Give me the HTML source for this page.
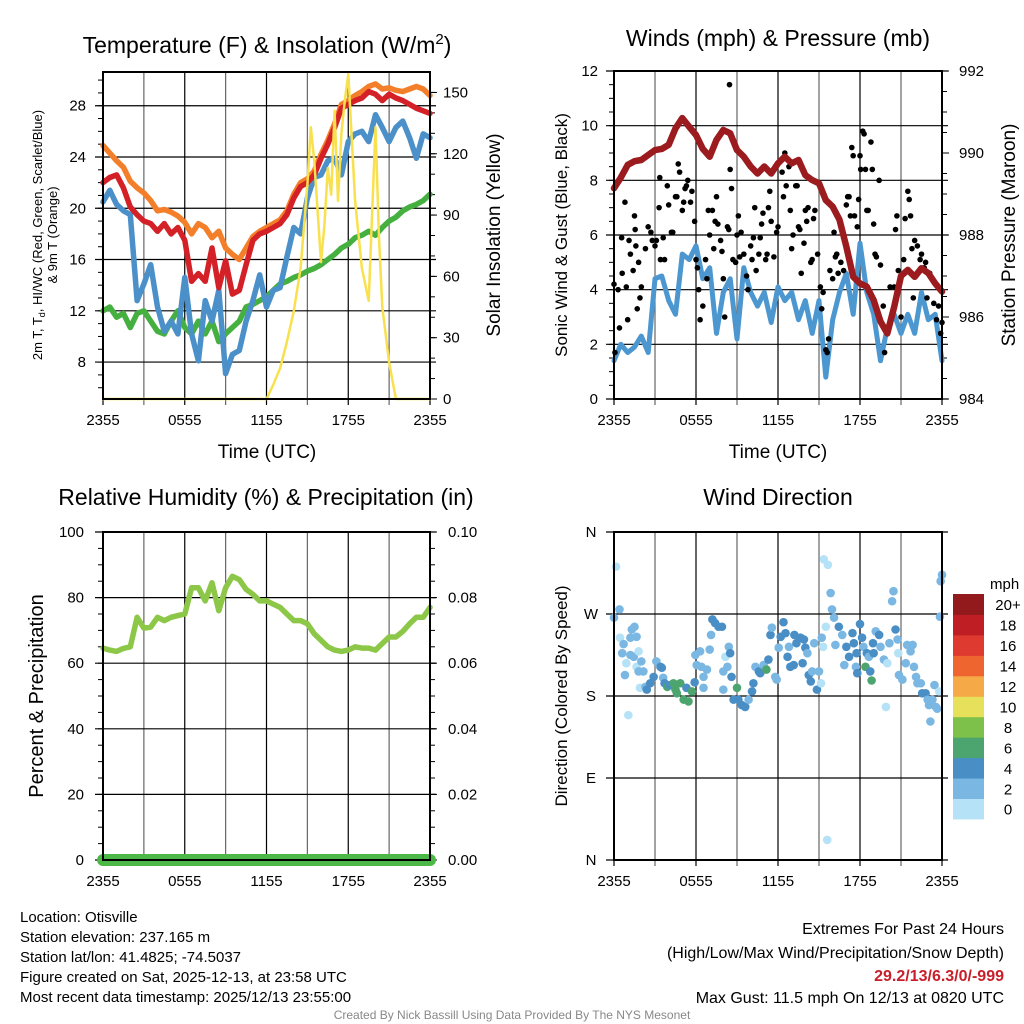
<!DOCTYPE html>
<html><head><meta charset="utf-8"><style>
html,body{margin:0;padding:0;background:#fff;}
svg{display:block;font-family:"Liberation Sans",Arial,sans-serif;}
</style></head><body>
<svg id="fig" width="1024" height="1024" viewBox="0 0 1024 1024">
<g id="texts">
<text x="267" y="53" font-size="23" text-anchor="middle">Temperature (F) &amp; Insolation (W/m<tspan font-size="15" dy="-9">2</tspan><tspan dy="9">)</tspan></text>
<text x="778" y="46" font-size="23" text-anchor="middle">Winds (mph) &amp; Pressure (mb)</text>
<text x="266" y="505" font-size="23" text-anchor="middle">Relative Humidity (%) &amp; Precipitation (in)</text>
<text x="778" y="505" font-size="23" text-anchor="middle">Wind Direction</text>
<text transform="translate(42,235) rotate(-90)" font-size="13" text-anchor="middle">2m T, T<tspan font-size="9" dy="3">d</tspan><tspan dy="-3">, HI/WC (Red, Green, Scarlet/Blue)</tspan></text>
<text transform="translate(57,235) rotate(-90)" font-size="13" text-anchor="middle">&amp; 9m T (Orange)</text>
<text transform="translate(500,235) rotate(-90)" font-size="19" text-anchor="middle">Solar Insolation (Yellow)</text>
<text transform="translate(567,235) rotate(-90)" font-size="17" text-anchor="middle">Sonic Wind &amp; Gust (Blue, Black)</text>
<text transform="translate(1015,235) rotate(-90)" font-size="19" text-anchor="middle">Station Pressure (Maroon)</text>
<text transform="translate(43,696) rotate(-90)" font-size="20" text-anchor="middle">Percent &amp; Precipitation</text>
<text transform="translate(567,696) rotate(-90)" font-size="17" text-anchor="middle">Direction (Colored By Speed)</text>
<text x="267" y="458" font-size="19" text-anchor="middle">Time (UTC)</text>
<text x="778" y="458" font-size="19" text-anchor="middle">Time (UTC)</text>
<g font-size="15">
<text x="20" y="922">Location: Otisville</text>
<text x="20" y="942">Station elevation: 237.165 m</text>
<text x="20" y="962">Station lat/lon: 41.4825; -74.5037</text>
<text x="20" y="982">Figure created on Sat, 2025-12-13, at 23:58 UTC</text>
<text x="20" y="1002">Most recent data timestamp: 2025/12/13 23:55:00</text>
</g>
<g font-size="16" text-anchor="end">
<text x="1004" y="934">Extremes For Past 24 Hours</text>
<text x="1004" y="958">(High/Low/Max Wind/Precipitation/Snow Depth)</text>
<text x="1004" y="981" fill="#c8202a" font-weight="bold">29.2/13/6.3/0/-999</text>
<text x="1004" y="1003">Max Gust: 11.5 mph On 12/13 at 0820 UTC</text>
</g>
<text x="512" y="1019" font-size="12" fill="#888" text-anchor="middle">Created By Nick Bassill Using Data Provided By The NYS Mesonet</text>
</g>
</svg>
<script>
// ---- Temperature panel data (hours since 2355 UTC, 0.5h steps) ----
const tHalf = [0,0.5,1,1.5,2,2.5,3,3.5,4,4.5,5,5.5,6,6.5,7,7.5,8,8.5,9,9.5,10,10.5,11,11.5,12,12.5,13,13.5,14,14.5,15,15.5,16,16.5,17,17.5,18,18.5,19,19.5,20,20.5,21,21.5,22,22.5,23,23.5,24];
const temp9m = [24.9,24.3,23.7,23.2,22.1,21.6,21.2,20.6,19.8,19.9,19.7,19.4,18.9,18.0,18.8,18.5,17.7,18.2,16.9,16.4,16.0,16.9,17.8,18.2,18.5,18.8,19.1,19.8,21.1,22.0,22.3,22.9,24.2,25.3,26.6,28.1,28.4,28.8,29.1,29.5,29.7,29.3,29.4,29.2,29.1,29.3,29.5,29.3,28.8];
const temp2m = [22.0,22.4,22.6,21.6,20.1,19.5,19.0,18.8,18.2,18.8,18.0,18.5,17.5,14.3,14.9,14.3,16.9,13.8,15.9,13.3,13.6,15.6,17.5,18.0,18.2,18.5,18.8,19.5,20.8,21.7,22.0,22.6,23.9,25.0,26.3,27.8,28.1,28.4,28.6,29.1,28.9,28.4,28.9,28.6,28.4,28.1,27.8,27.6,27.4];
const heatWind = [20.5,21.4,20.3,19.8,19.5,12.8,14.1,15.6,12.3,10.4,11.2,10.2,14.6,10.2,8.1,12.8,11.2,13.6,7.1,8.6,8.9,11.2,12.8,14.8,12.3,13.6,13.8,16.2,18.5,18.0,20.8,22.4,22.6,23.7,23.9,22.6,25.2,25.8,26.0,25.2,27.3,26.3,25.2,26.3,26.8,25.5,23.9,25.8,25.5];
const dewPoint = [12.0,12.3,11.5,11.8,10.7,11.8,12.0,11.2,10.4,10.2,11.2,12.0,10.7,10.2,11.2,10.2,11.2,9.6,10.2,10.7,11.2,12.3,12.5,12.8,13.1,13.6,14.1,14.3,14.6,14.8,15.1,15.3,15.6,16.0,16.4,16.9,17.2,17.7,17.9,18.2,17.9,18.5,19.0,19.3,19.8,20.1,20.3,20.6,21.1];
const solarTime = [0,12,12.5,13,13.5,14,14.5,15,15.25,15.5,16,16.25,16.5,16.75,17,17.25,17.5,17.75,18,18.5,19,19.5,20,20.25,20.5,21,21.5,24];
const solarValues = [0,0,7,15,28,43,64,105,133,117,67,85,113,100,141,97,130,146,159,97,64,48,133,80,45,18,0,0];
const tempTicks = [8,12,16,20,24,28];
const solarTicks = [0,30,60,90,120,150];
const timeLabels = ["2355","0555","1155","1755","2355"];
// ---- Wind panel data ----
const windSpeed = [1.4,2.0,1.7,1.9,2.3,1.7,4.4,4.5,3.6,3.1,5.3,5.1,5.6,4.4,4.8,2.4,3.9,4.4,2.2,4.8,3.9,3.4,3.9,2.8,4.1,3.6,3.9,2.9,3.6,2.4,3.6,0.8,2.9,3.9,4.6,3.1,5.7,3.9,3.1,1.4,2.6,3.1,2.4,3.1,2.4,3.9,2.9,3.1,1.4];
const pressure = [989.14,989.4,989.71,989.8,989.83,989.95,990.07,990.1,990.2,990.6,990.85,990.64,990.44,990.1,989.91,990.32,990.56,990.48,990.07,989.91,989.67,989.5,989.67,989.5,989.75,989.91,989.75,989.83,989.46,989.34,989.26,988.85,988.69,988.37,987.72,986.98,986.82,986.74,986.41,985.89,985.6,986.25,987.0,987.15,986.98,987.19,987.07,986.82,986.62];
const gustTime = [0,0.07,0.3,0.4,0.56,0.6,0.8,0.9,1.0,1.1,1.2,1.4,1.5,1.55,1.6,1.7,1.8,1.9,2.0,2.3,2.5,2.7,2.8,3.0,3.1,3.3,3.35,3.4,3.6,3.7,3.9,4.0,4.2,4.3,4.5,4.6,4.7,4.8,5.0,5.1,5.2,5.3,5.4,5.6,5.7,5.9,6.0,6.1,6.2,6.3,6.5,6.7,6.8,6.9,7.0,7.2,7.3,7.4,7.5,7.6,7.8,7.9,8.0,8.1,8.3,8.4,8.45,8.5,8.6,8.7,8.9,9.0,9.1,9.2,9.3,9.5,9.7,9.8,10.0,10.1,10.2,10.3,10.4,10.6,10.7,10.8,10.9,11.1,11.2,11.3,11.4,11.5,11.7,11.9,12.0,12.3,12.4,12.5,12.6,12.8,12.9,13.0,13.1,13.3,13.4,13.5,13.6,13.7,13.9,14.0,14.1,14.2,14.4,14.5,14.6,14.7,14.9,15.1,15.2,15.3,15.5,15.6,15.7,15.8,16.0,16.1,16.2,16.3,16.4,16.6,16.8,17.0,17.1,17.2,17.3,17.4,17.5,17.6,17.8,17.9,18.0,18.05,18.2,18.3,18.4,18.5,18.6,18.8,18.9,19.0,19.1,19.2,19.4,19.5,19.7,19.8,20.2,20.5,20.6,20.7,20.8,21.0,21.2,21.3,21.5,21.6,21.7,21.8,21.9,22.0,22.2,22.4,22.5,22.7,22.8,22.9,23.1,23.4,23.6,23.75,23.9,24.0];
const gustSpeed = [4.2,1.7,4.0,2.6,5.9,4.6,7.2,4.1,2.9,5.8,5.3,4.7,6.7,6.2,5.6,3.3,5.0,3.7,4.1,5.5,6.3,6.1,5.8,5.6,5.8,7.0,8.1,5.1,5.9,5.1,7.8,7.1,6.1,6.1,7.4,7.4,8.6,8.3,6.9,7.2,7.7,7.8,8.0,7.2,7.6,6.5,5.1,4.8,4.0,2.9,3.4,5.1,4.4,6.9,6.0,6.9,5.5,6.5,7.4,6.4,5.8,5.4,4.4,3.0,6.3,6.2,11.5,8.4,7.7,5.1,5.0,6.0,6.7,5.2,6.1,5.3,4.5,4.0,5.6,5.1,5.9,7.0,4.7,5.3,5.9,6.4,6.8,5.1,5.3,7.0,7.6,6.5,5.2,6.1,6.3,8.3,7.4,9.0,7.8,8.5,6.9,5.5,6.0,7.8,7.8,6.3,6.2,4.6,5.7,6.9,6.5,7.0,5.0,5.1,6.6,6.9,5.3,4.1,3.3,3.9,1.8,1.7,2.2,4.7,4.4,6.1,5.2,5.3,4.6,5.0,4.7,7.1,7.4,7.4,6.7,9.2,8.9,6.7,6.3,7.3,8.9,8.4,9.8,9.7,8.4,6.9,6.9,9.4,8.4,6.4,5.3,5.2,8.0,4.9,3.4,1.7,4.1,4.1,6.2,6.7,4.7,3.0,5.1,6.6,7.6,7.3,6.7,5.5,3.7,5.8,5.6,5.1,5.3,4.8,5.0,3.7,4.6,3.5,2.9,3.4,2.4,2.8];
const windTicks = [0,2,4,6,8,10,12];
const pressTicks = [984,986,988,990,992];
// ---- Humidity panel data ----
const rhValues = [64.6,64,63.6,64.5,65,74,70.7,71,74,73,74,74.5,75,83,83,79,84.5,76,83,86.5,85.5,82.5,81,79,79,78,77,75,73,73,72,69,67,65,64,63.6,64,65,64.6,64.6,64,66,68,68,69.7,72,74,74,77];
const precipValues = [0,0,0,0,0,0,0,0,0,0,0,0,0,0,0,0,0,0,0,0,0,0,0,0,0,0,0,0,0,0,0,0,0,0,0,0,0,0,0,0,0,0,0,0,0,0,0,0,0];
const rhTicks = [0,20,40,60,80,100];
const precipTicks = ["0.00","0.02","0.04","0.06","0.08","0.10"];
// ---- Wind direction panel data ----
const dirTime = [0.15,0,0.4,0.44,0.7,0.6,0.8,0.9,1.05,1.2,1.3,1.5,1.65,1.2,1.45,1.8,1.65,1.8,2.0,2.15,1.9,2.3,2.4,2.65,2.9,3.1,3.4,3.5,3.6,3.7,3.9,4.1,4.35,4.5,4.6,4.85,5.1,5.3,5.45,5.7,5.9,5.95,6.05,6.3,6.4,6.55,6.55,6.8,7.0,7.1,7.2,7.4,7.65,7.9,8.0,8.15,8.3,8.4,8.5,8.6,8.0,8.75,9.0,9.1,9.35,9.6,9.85,10.1,10.2,10.35,10.6,10.7,10.95,11.15,11.3,11.45,11.55,11.8,11.9,12.05,12.2,12.4,12.55,12.7,12.8,12.9,13.15,13.2,13.35,13.65,13.8,13.9,14.0,14.15,14.25,14.4,14.5,14.65,14.85,15.0,15.15,15.2,15.3,15.35,15.5,15.6,15.65,15.85,15.95,16.1,16.2,16.45,16.7,16.85,17.0,17.2,17.45,17.55,17.7,17.75,17.8,18.0,18.15,18.25,18.4,18.5,18.65,18.75,18.85,18.95,19.0,19.15,19.4,19.5,19.75,19.9,20.0,20.15,20.35,20.45,20.6,20.75,20.8,20.85,21.1,21.35,21.45,21.7,21.85,21.95,22.1,22.2,22.45,22.55,22.8,22.95,23.05,23.15,23.3,23.45,23.55,23.65,23.8,23.85,23.9,24.0];
const dirValues = [322,266,275,244,237,227,203,216,159,244,253,256,245,225,223,229,212,207,218,207,189,190,187,194,201,218,212,211,200,194,190,192,194,187,183,194,176,189,174,185,195,225,214,229,212,201,189,209,231,247,264,260,256,256,207,223,212,234,227,201,187,176,189,176,170,168,176,185,194,212,207,205,214,209,220,247,255,201,198,233,245,261,249,223,234,212,214,247,238,244,216,242,233,227,203,196,207,238,187,207,194,244,234,330,256,22,324,293,275,266,236,256,247,214,234,223,249,238,212,227,205,259,244,234,212,227,223,207,197,238,227,251,247,234,220,168,216,238,284,295,253,242,227,203,198,216,236,229,236,212,201,194,194,183,183,176,170,152,176,192,168,166,185,267,306,313];
const dirSpeed = [1,3,3,1,3,3,3,1,1,3,3,3,3,3,3,1,1,3,3,3,1,3,5,5,5,3,5,5,3,5,7,5,7,7,7,7,7,5,7,7,5,3,3,3,3,3,3,3,3,3,5,5,5,5,3,1,3,3,5,5,3,5,7,5,5,5,3,5,5,3,5,5,3,7,5,5,3,3,3,3,5,5,5,5,3,5,5,5,5,5,5,5,5,3,5,5,3,3,5,3,1,3,1,1,1,1,1,3,3,3,3,5,3,3,5,5,5,5,3,5,5,5,5,3,7,5,3,5,7,5,5,3,5,3,3,1,1,3,3,3,5,3,1,3,3,3,3,3,3,3,3,3,3,5,5,3,3,3,3,3,3,3,1,3,3,3];
const dirLabels = ["N","E","S","W","N"];
const speedBins = ["0","2","4","6","8","10","12","14","16","18","20+"];
const binColors = ["#b5e2f7","#7ab7e2","#4a8ec6","#4ca56e","#7dc14a","#e6e05a","#f5a947","#ef6530","#df3a2f","#bf1e24","#921a1c"];

const NS="http://www.w3.org/2000/svg";
const svg=document.getElementById('fig');
function mk(tag,attrs,parent){const e=document.createElementNS(NS,tag);for(const k in attrs)e.setAttribute(k,attrs[k]);(parent||svg).appendChild(e);return e;}
function scale(d0,d1,r0,r1){return v=>r0+(v-d0)*(r1-r0)/(d1-d0);}

function frame(name,L,R,T,B){
  const g=mk('g',{});
  
  
  const xs=scale(0,24,L,R);
  for(let h=0;h<=24;h+=3){
    const x=xs(h);
    const ln=mk('line',{x1:x,x2:x,y1:T,y2:B+6,stroke:(h%6===0)?'#000':'#666','stroke-width':1.2},g);
    
    
  }
  for(let i=0;i<timeLabels.length;i++){
    const t=mk('text',{x:xs(i*6),y:B+26,'font-size':15,'text-anchor':'middle'},g);
    
    
    t.textContent=timeLabels[i];
  }
  return {g,xs};
}
function border(g,L,R,T,B){mk('rect',{x:L,y:T,width:R-L,height:B-T,fill:'none',stroke:'#000','stroke-width':2},g);}
function hgrid(g,L,R,y,stroke){const l=mk('line',{x1:L-8,x2:R+6,y1:y,y2:y,stroke:stroke||'#000','stroke-width':1.2},g);}
function minorTicks(g,x,y0,y1,n,dir){for(let i=0;i<=n;i++){const y=y0+(y1-y0)*i/n;mk('line',{x1:x,x2:x+dir*5,y1:y,y2:y,stroke:'#000','stroke-width':1},g);}}
function polyline(g,xs,ys,xa,ya,color,w,name){
  let d='';for(let i=0;i<xa.length;i++)d+=(i?'L':'M')+xs(xa[i]).toFixed(1)+','+ys(ya[i]).toFixed(1);
  const p=mk('path',{d,fill:'none',stroke:color,'stroke-width':w,'stroke-linejoin':'round','stroke-linecap':'round'},g);
  
  
  return p;
}

// Panel 1
(function(){
  const L=103,R=430,T=72,B=399;
  const {g,xs}=frame('temperature-panel',L,R,T,B);
  const ys=scale(5.12,30.63,B,T), ss=scale(0,160,B,T);
  tempTicks.forEach(v=>{hgrid(g,L,R,ys(v));const t=mk('text',{x:86,y:ys(v)+5,'font-size':15,'text-anchor':'end'},g);t.textContent=v;});
  solarTicks.forEach(v=>{mk('line',{x1:R,x2:R+7,y1:ss(v),y2:ss(v),stroke:'#000'},g);const t=mk('text',{x:443,y:ss(v)+5,'font-size':15},g);t.textContent=v;});
  minorTicks(g,L,ys(6),ys(30),24,-1); minorTicks(g,R,ss(0),ss(150),15,1);
  polyline(g,xs,ys,tHalf,temp9m,'#f47f2a',5.5,'temp-9m-line');
  polyline(g,xs,ys,tHalf,dewPoint,'#45b040',5.5,'dewpoint-line');
  polyline(g,xs,ys,tHalf,heatWind,'#4b90c8',5.5,'heat-index-wind-chill-line');
  polyline(g,xs,ys,tHalf,temp2m,'#d42027',5.5,'temp-2m-line');
  polyline(g,xs,ss,solarTime,solarValues,'#f8e04e',2.5,'solar-insolation-line');
  border(g,L,R,T,B);
})();

// Panel 2
(function(){
  const L=614,R=942,T=71,B=399;
  const {g,xs}=frame('winds-panel',L,R,T,B);
  const ys=scale(0,12,B,T), ps=scale(984,992,B,T);
  windTicks.forEach(v=>{hgrid(g,L,R,ys(v));const t=mk('text',{x:598,y:ys(v)+5,'font-size':15,'text-anchor':'end'},g);t.textContent=v;});
  pressTicks.forEach(v=>{mk('line',{x1:R,x2:R+7,y1:ps(v),y2:ps(v),stroke:'#000'},g);const t=mk('text',{x:959,y:ps(v)+5,'font-size':15},g);t.textContent=v;});
  minorTicks(g,L,ys(0),ys(12),24,-1); minorTicks(g,R,ps(984),ps(992),16,1);
  polyline(g,xs,ys,tHalf,windSpeed,'#4d97d0',5,'wind-speed-line');
  for(let i=0;i<gustTime.length;i++){
    const c=mk('circle',{cx:xs(gustTime[i]),cy:ys(gustSpeed[i]),r:2.8,fill:'#000'},g);
    
    
  }
  polyline(g,xs,ps,tHalf,pressure,'#9b1b1e',6.5,'pressure-line');
  border(g,L,R,T,B);
})();

// Panel 3
(function(){
  const L=103,R=430,T=532,B=860;
  const {g,xs}=frame('humidity-panel',L,R,T,B);
  const ys=scale(0,100,B,T), pr=scale(0,0.1,B,T);
  rhTicks.forEach(v=>{hgrid(g,L,R,ys(v));const t=mk('text',{x:84,y:ys(v)+5,'font-size':15,'text-anchor':'end'},g);t.textContent=v;});
  precipTicks.forEach((v,i)=>{const y=pr(i*0.02);mk('line',{x1:R,x2:R+7,y1:y,y2:y,stroke:'#000'},g);const t=mk('text',{x:448,y:y+5,'font-size':15},g);t.textContent=v;});
  minorTicks(g,L,ys(0),ys(100),20,-1); minorTicks(g,R,ys(0),ys(100),20,1);
  polyline(g,xs,ys,tHalf,rhValues,'#8dc748',5.5,'relative-humidity-line');
  polyline(g,xs,pr,tHalf,precipValues,'#4cb848',12,'precipitation-line');
  border(g,L,R,T,B);
})();

// Panel 4
(function(){
  const L=614,R=942,T=532,B=860;
  const {g,xs}=frame('wind-direction-panel',L,R,T,B);
  const ys=scale(0,360,B,T);
  dirLabels.forEach((v,i)=>{hgrid(g,L,R,ys(i*90));const t=mk('text',{x:591,y:ys(i*90)+5,'font-size':15,'text-anchor':'middle'},g);t.textContent=v;});
  for(let i=0;i<dirTime.length;i++){
    const bin=Math.min(10,Math.floor(dirSpeed[i]/2));
    const c=mk('circle',{cx:xs(dirTime[i]),cy:ys(dirValues[i]),r:4.3,fill:binColors[bin]},g);
    
    
  }
  border(g,L,R,T,B);
  const cb=mk('g',{});
  
  
  const t0=mk('text',{x:990,y:589,'font-size':15},cb);
  
  
  t0.textContent='mph';
  const bh=20.45,top=594;
  for(let i=0;i<speedBins.length;i++){
    const y=top+(10-i)*bh;
    const r=mk('rect',{x:953,y:y,width:31,height:bh+0.5,fill:binColors[i]},cb);
    
    
    const t=mk('text',{x:1008,y:y+bh/2+6,'font-size':15,'text-anchor':'middle'},cb);
    
    
    t.textContent=speedBins[i];
  }
})();
</script>
</body></html>
